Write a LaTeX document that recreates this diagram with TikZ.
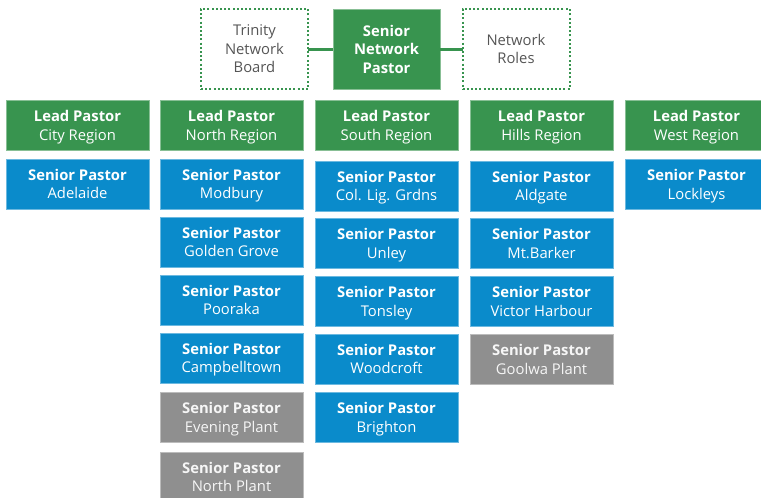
\documentclass[tikz,border=0pt]{standalone}
\usepackage{fontspec}
\setmainfont{Open Sans}
\definecolor{gr}{HTML}{38944F}
\definecolor{bl}{HTML}{0A8BCB}
\definecolor{gy}{HTML}{8F8F8F}
\definecolor{tx}{HTML}{555555}
\begin{document}
\begin{tikzpicture}[x=1pt,y=-1pt,
  box/.style={minimum width=143pt, minimum height=50pt, inner sep=0pt, outer sep=0pt, align=center, text=white, font=\fontsize{14.8}{18.5}\selectfont, line width=0.6pt, text depth=0pt},
  lead/.style={box, fill=gr, draw=gr!60!white},
  sp/.style={box, fill=bl, draw=bl!60!white},
  plant/.style={box, fill=gy, draw=gy!60!white, text=white!92!gy},
  topbox/.style={minimum width=107pt, minimum height=80pt, inner sep=0pt, outer sep=0pt, align=center, font=\fontsize{14.8}{18.5}\selectfont, text depth=0pt},
  dotbox/.style={topbox, draw=gr, line width=2pt, dash pattern=on 2pt off 2.2pt, text=tx},
  link/.style={draw=gr, line width=3pt}]
\useasboundingbox (0,0) rectangle (761,498);
\clip (0,0) rectangle (761,498);
% top row
\node[dotbox] (board) at (254.5,49) {Trinity\\Network\\Board};
\node[topbox, fill=gr, text=white, draw=gr!60!white, line width=0.6pt] (snp) at (386.5,49) {\bfseries Senior\\\bfseries Network\\\bfseries Pastor};
\node[dotbox] (roles) at (516,49) {Network\\Roles};
\draw[link] (board.east) -- (snp.west);
\draw[link] (snp.east) -- (roles.west);
% lead row
\node[lead] (city) at (77.5,125.5) {\bfseries Lead Pastor\\City Region};
\node[lead] (north) at (231.5,125.5) {\bfseries Lead Pastor\\North Region};
\node[lead] (south) at (386.5,125.5) {\bfseries Lead Pastor\\South Region};
\node[lead] (hills) at (541.5,125.5) {\bfseries Lead Pastor\\Hills Region};
\node[lead] (west) at (696.5,125.5) {\bfseries Lead Pastor\\West Region};
% column 1
\node[sp] (adelaide) at (77.5,184) {\bfseries Senior Pastor\\Adelaide};
% column 2
\node[sp] (modbury) at (231.5,184) {\bfseries Senior Pastor\\Modbury};
\node[sp] (golden) at (231.5,242) {\bfseries Senior Pastor\\Golden Grove};
\node[sp] (pooraka) at (231.5,300) {\bfseries Senior Pastor\\Pooraka};
\node[sp] (campbell) at (231.5,358) {\bfseries Senior Pastor\\Campbelltown};
\node[plant] (evening) at (231.5,417.5) {\bfseries Senior Pastor\\Evening Plant};
\node[plant] (northplant) at (231.5,477) {\bfseries Senior Pastor\\North Plant};
% column 3
\node[sp] (colig) at (386.5,186) {\bfseries Senior Pastor\\Col. Lig. Grdns};
\node[sp] (unley) at (386.5,243.5) {\bfseries Senior Pastor\\Unley};
\node[sp] (tonsley) at (386.5,301.5) {\bfseries Senior Pastor\\Tonsley};
\node[sp] (woodcroft) at (386.5,359) {\bfseries Senior Pastor\\Woodcroft};
\node[sp] (brighton) at (386.5,417.5) {\bfseries Senior Pastor\\Brighton};
% column 4
\node[sp] (aldgate) at (541.5,186) {\bfseries Senior Pastor\\Aldgate};
\node[sp] (mtbarker) at (541.5,243.5) {\bfseries Senior Pastor\\Mt.Barker};
\node[sp] (victor) at (541.5,301.5) {\bfseries Senior Pastor\\Victor Harbour};
\node[plant] (goolwa) at (541.5,359.5) {\bfseries Senior Pastor\\Goolwa Plant};
% column 5
\node[sp] (lockleys) at (696.5,184.5) {\bfseries Senior Pastor\\Lockleys};
\end{tikzpicture}
\end{document}
